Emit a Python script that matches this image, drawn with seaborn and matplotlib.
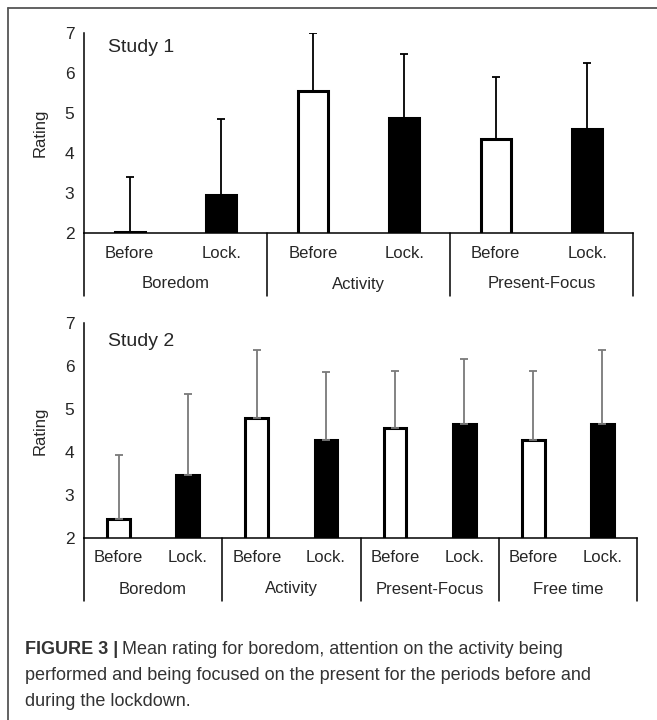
import numpy as np
import pandas as pd
import seaborn as sns
import matplotlib.pyplot as plt
from matplotlib.lines import Line2D

# Данные
periods = ['Before', 'Lock.']

s1_groups = ['Boredom', 'Activity', 'Present-Focus']
s1_means = [2.03, 2.95, 5.56, 4.87, 4.34, 4.59]
s1_sd = [1.38, 1.89, 1.44, 1.61, 1.55, 1.65]

s2_groups = ['Boredom', 'Activity', 'Present-Focus', 'Free time']
s2_means = [2.44, 3.46, 4.79, 4.27, 4.56, 4.66, 4.27, 4.66]
s2_sd = [1.48, 1.89, 1.58, 1.58, 1.32, 1.51, 1.61, 1.71]

sns.set_style('white')
plt.rcParams['font.family'] = ['Liberation Sans', 'DejaVu Sans']

W, H = 657, 720
fig = plt.figure(figsize=(W / 100, H / 100), dpi=100)


def make_df(groups, means, sd):
    rows = []
    i = 0
    for g in groups:
        for p in periods:
            rows.append({'key': g + '|' + p, 'group': g, 'period': p,
                         'mean': means[i], 'sd': sd[i]})
            i += 1
    return pd.DataFrame(rows)


def draw_panel(rect, groups, means, sd, title, title_y, ecolor):
    ax = fig.add_axes(rect)
    df = make_df(groups, means, sd)
    sns.barplot(data=df, x='key', y='mean', hue='period',
                palette={'Before': 'white', 'Lock.': 'black'},
                dodge=False, width=0.33, edgecolor='black', linewidth=2.2,
                legend=False, errorbar=None, ax=ax)
    pos = np.arange(len(df))
    ax.errorbar(pos, df['mean'], yerr=[np.zeros(len(df)), df['sd']],
                fmt='none', ecolor=ecolor, elinewidth=1.3, capsize=3,
                capthick=1.3, zorder=1)
    ax.set_ylim(2, 7)
    ax.set_xlim(-0.5, len(df) - 0.5)
    ax.set_yticks(range(2, 8))
    ax.tick_params(axis='y', direction='out', length=4, width=1,
                   labelsize=12.5, pad=3, color='black')
    ax.set_xticks([])
    ax.set_xlabel('')
    ax.set_ylabel('Rating', fontsize=12, labelpad=12)
    for s in ['top', 'right']:
        ax.spines[s].set_visible(False)
    for s in ['left', 'bottom']:
        ax.spines[s].set_color('black')
        ax.spines[s].set_linewidth(1.1)

    h_px = rect[3] * H
    tr = ax.get_xaxis_transform()
    # подписи периодов и групп под осью
    for k, row in df.iterrows():
        ax.annotate(row['period'], xy=(k, 0), xycoords=tr,
                    xytext=(0, -20 * 0.72), textcoords='offset points',
                    ha='center', va='center', fontsize=12)
    for j, g in enumerate(groups):
        ax.annotate(g, xy=(2 * j + 0.5, 0), xycoords=tr,
                    xytext=(0, -51 * 0.72), textcoords='offset points',
                    ha='center', va='center', fontsize=12)
    for j in range(len(groups) + 1):
        ax.plot([2 * j - 0.5, 2 * j - 0.5], [0, -63 / h_px], transform=tr,
                clip_on=False, color='black', lw=1.1)
    ax.text(0.044, title_y, title,
            transform=ax.transAxes, fontsize=14, ha='left', va='center')
    return ax


draw_panel([84 / W, 1 - 233 / H, 549 / W, 200 / H],
           s1_groups, s1_means, s1_sd, 'Study 1', 0.925, 'black')
draw_panel([84 / W, 1 - 538 / H, 553 / W, 215 / H],
           s2_groups, s2_means, s2_sd, 'Study 2', 0.913, '#7a7a7a')

# рамка
fig.add_artist(Line2D([8 / W, 8 / W], [0, 1 - 8 / H], color='#555555', lw=1.3))
fig.add_artist(Line2D([8 / W, 1], [1 - 8 / H, 1 - 8 / H], color='#555555', lw=1.3))

# подпись к рисунку
cap_col = '#333333'
cap_fs = 13
t = fig.text(25 / W, 1 - 649 / H, 'FIGURE 3 |', fontsize=cap_fs, fontweight='bold',
             color=cap_col, ha='left', va='center')
fig.canvas.draw()
bb = t.get_window_extent(renderer=fig.canvas.get_renderer())
fig.text(bb.x1 / W + 4 / W, 1 - 649 / H,
         'Mean rating for boredom, attention on the activity being',
         fontsize=cap_fs, color=cap_col, ha='left', va='center')
fig.text(25 / W, 1 - 675 / H,
         'performed and being focused on the present for the periods before and',
         fontsize=cap_fs, color=cap_col, ha='left', va='center')
fig.text(25 / W, 1 - 701 / H, 'during the lockdown.',
         fontsize=cap_fs, color=cap_col, ha='left', va='center')

fig.savefig('out.png', dpi=100)
